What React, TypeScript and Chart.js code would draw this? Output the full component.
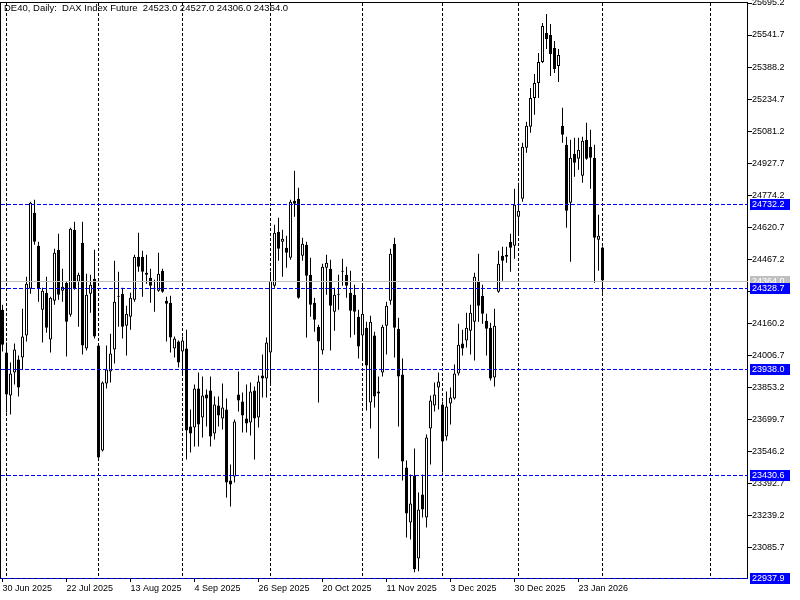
import React, { useEffect, useRef } from 'react';
import { Chart, registerables } from 'chart.js';

Chart.register(...registerables);

const opens = [
  24224.7, 24018.7, 23812.8, 23922.9, 23985.2, 23994.8, 24100.2, 24325.3, 24689.3, 24531.3,
  24224.7, 24306.1, 24081.0, 24267.8, 24512.1, 24315.7, 24354.0, 24200.7, 24607.9, 24358.8,
  24545.6, 24037.9, 24301.3, 24373.2, 24052.3, 23549.3, 23870.2, 23927.7, 24033.1, 24287.0,
  24301.3, 24148.1, 24191.2, 24272.6, 24478.6, 24478.6, 24401.9, 24378.0, 24330.1, 24315.7,
  24411.5, 24267.8, 24258.2, 24037.9, 24071.4, 24023.5, 24037.9, 23664.3, 23659.5, 23846.3,
  23707.4, 23817.5, 23836.7, 23630.7, 23764.9, 23702.6, 23745.7, 23405.6, 23424.8, 23817.5,
  23784.0, 23702.6, 23683.4, 23836.7, 23707.4, 23908.6, 23894.2, 24018.7, 24339.7, 24598.3,
  24550.4, 24521.7, 24473.8, 24746.8, 24756.4, 24483.4, 24536.1, 24392.4, 24258.2, 24143.3,
  24028.3, 24425.9, 24421.1, 24215.1, 24296.6, 24406.7, 24392.4, 24306.1, 24296.6, 24191.2,
  24100.2, 24138.5, 23779.2, 24100.2, 23822.3, 23922.9, 24148.1, 24267.8, 24540.8, 24133.7,
  23913.3, 23467.9, 23204.4, 23429.6, 23032.0, 23338.5, 23228.4, 23654.7, 23764.9, 23851.1,
  23769.6, 23616.4, 23774.4, 23798.4, 23918.1, 24061.8, 24076.2, 24124.1, 24167.2, 24363.6,
  24291.8, 24172.0, 24138.5, 23899.0, 24310.9, 24483.4, 24488.2, 24550.4, 24531.3, 24670.2,
  24756.4, 25000.7, 25101.3, 25240.2, 25312.0, 25412.6, 25551.5, 25542.0, 25479.7, 25393.5,
  25106.1, 25015.1, 24737.2, 24971.9, 24948.0, 24866.6, 25039.0, 25005.5, 24952.8, 24560.0,
  24523.0,
];

const highs = [
  24248.6, 24066.6, 23970.8, 24061.8, 24004.4, 24229.5, 24382.8, 24742.0, 24751.6, 24550.4,
  24330.1, 24382.8, 24287.0, 24516.9, 24588.7, 24421.1, 24358.8, 24617.5, 24646.2, 24401.9,
  24646.2, 24397.1, 24392.4, 24512.1, 24061.8, 23879.8, 24052.3, 24109.7, 24459.4, 24406.7,
  24330.1, 24243.9, 24306.1, 24488.2, 24593.5, 24507.3, 24488.2, 24421.1, 24368.4, 24497.7,
  24421.1, 24287.0, 24291.8, 24095.4, 24076.2, 24095.4, 24128.9, 23745.7, 23865.4, 23922.9,
  23903.8, 23841.5, 23903.8, 23808.0, 23808.0, 23870.2, 23798.4, 23482.2, 23697.8, 23927.7,
  23827.1, 23865.4, 23875.0, 23855.9, 23908.6, 24009.1, 24090.6, 24406.7, 24631.9, 24665.4,
  24607.9, 24579.2, 24751.6, 24890.5, 24809.1, 24569.6, 24550.4, 24473.8, 24282.2, 24152.8,
  24445.0, 24488.2, 24464.2, 24330.1, 24392.4, 24469.0, 24430.7, 24411.5, 24344.5, 24224.7,
  24349.2, 24167.2, 24196.0, 24119.3, 23903.8, 24152.8, 24263.0, 24516.9, 24569.6, 24186.4,
  23990.0, 23501.4, 23434.3, 23558.9, 23348.1, 23434.3, 23625.9, 23812.8, 23875.0, 23922.9,
  23784.0, 23831.9, 23851.1, 23961.2, 24157.6, 24128.9, 24210.3, 24248.6, 24401.9, 24492.9,
  24344.5, 24205.5, 24162.4, 24229.5, 24507.3, 24526.5, 24526.5, 24588.7, 24804.3, 24833.0,
  25024.6, 25125.2, 25288.1, 25355.1, 25455.7, 25599.4, 25642.5, 25594.6, 25513.2, 25474.9,
  25192.3, 25053.4, 25039.0, 25048.6, 25048.6, 25053.4, 25120.4, 25086.9, 25015.1, 24679.8,
  24527.0,
];

const lows = [
  24023.5, 23731.3, 23721.7, 23865.4, 23808.0, 23937.3, 24071.4, 24301.3, 24536.1, 24263.0,
  24066.6, 24114.5, 24018.7, 24248.6, 24272.6, 24263.0, 23999.6, 24191.2, 24320.5, 24143.3,
  24009.1, 24028.3, 24210.3, 24085.8, 23506.2, 23544.5, 23846.3, 23875.0, 23966.0, 24143.3,
  24085.8, 24004.4, 24128.9, 24263.0, 24406.7, 24287.0, 24349.2, 24258.2, 24215.1, 24310.9,
  24306.1, 24071.4, 24018.7, 23994.8, 23946.9, 23913.3, 23506.2, 23539.7, 23568.5, 23568.5,
  23611.6, 23664.3, 23568.5, 23602.0, 23664.3, 23649.9, 23324.2, 23281.1, 23396.0, 23736.1,
  23635.5, 23635.5, 23621.2, 23506.2, 23659.5, 23803.2, 23803.2, 23870.2, 24330.1, 24459.4,
  24382.8, 24425.9, 24464.2, 24670.2, 24277.4, 24459.4, 24090.6, 24191.2, 24119.3, 23779.2,
  24009.1, 24296.6, 24028.3, 24124.1, 24224.7, 24339.7, 24282.2, 24090.6, 24104.9, 23990.0,
  23985.2, 23740.9, 23654.7, 23755.3, 23511.0, 23903.8, 24009.1, 24248.6, 23994.8, 23664.3,
  23405.6, 23132.6, 23123.0, 22964.9, 22969.7, 23228.4, 23180.5, 23482.2, 23736.1, 23745.7,
  23443.9, 23597.2, 23673.8, 23793.6, 23908.6, 24004.4, 24042.7, 24009.1, 23980.4, 24167.2,
  24157.6, 24004.4, 23884.6, 23855.9, 24306.1, 24363.6, 24449.8, 24406.7, 24469.0, 24588.7,
  24742.0, 24976.7, 25072.5, 25158.8, 25240.2, 25407.8, 25474.9, 25345.6, 25359.9, 25316.8,
  25024.6, 24617.5, 24454.6, 24861.8, 24895.3, 24833.0, 24943.2, 24804.3, 24354.0, 24411.5,
  24306.0,
];

const closes = [
  24057.0, 23817.5, 23918.1, 24033.1, 23851.1, 24095.4, 24349.2, 24737.2, 24550.4, 24325.3,
  24315.7, 24138.5, 24282.2, 24497.7, 24296.6, 24334.9, 24167.2, 24612.7, 24325.3, 24392.4,
  24052.3, 24296.6, 24344.5, 24095.4, 23515.8, 23875.0, 23937.3, 24013.9, 24263.0, 24291.8,
  24143.3, 24205.5, 24282.2, 24478.6, 24430.7, 24406.7, 24392.4, 24339.7, 24325.3, 24397.1,
  24310.9, 24253.4, 24090.6, 24085.8, 23970.8, 24076.2, 23645.1, 23630.7, 23846.3, 23673.8,
  23812.8, 23798.4, 23616.4, 23769.6, 23717.0, 23755.3, 23396.0, 23386.4, 23688.2, 23788.8,
  23717.0, 23678.6, 23831.9, 23702.6, 23879.8, 23894.2, 24066.6, 24363.6, 24593.5, 24516.9,
  24564.8, 24497.7, 24742.0, 24732.4, 24282.2, 24540.8, 24387.6, 24248.6, 24176.8, 24071.4,
  24430.7, 24449.8, 24243.9, 24296.6, 24301.3, 24411.5, 24339.7, 24219.9, 24215.1, 24047.5,
  24205.5, 23956.5, 24167.2, 23808.0, 23831.9, 24143.3, 24243.9, 24492.9, 24138.5, 23903.8,
  23496.6, 23247.5, 23295.4, 22979.3, 23266.7, 23266.7, 23611.6, 23788.8, 23817.5, 23879.8,
  23592.4, 23760.1, 23803.2, 23918.1, 24057.0, 24037.9, 24138.5, 24210.3, 24382.8, 24243.9,
  24205.5, 24133.7, 23894.2, 24148.1, 24445.0, 24459.4, 24478.6, 24521.7, 24727.7, 24698.9,
  25005.5, 25106.1, 25240.2, 25312.0, 25412.6, 25585.1, 25522.8, 25450.9, 25379.1, 25446.2,
  25063.0, 24698.9, 24952.8, 24928.8, 24991.1, 25034.2, 24948.0, 24952.8, 24569.6, 24579.2,
  24364.0,
];

const xTickIdx = [0, 16, 32, 48, 64, 80, 96, 112, 128, 144];
const xTickLabels = [
  '30 Jun 2025', '22 Jul 2025', '13 Aug 2025', '4 Sep 2025', '26 Sep 2025',
  '20 Oct 2025', '11 Nov 2025', '3 Dec 2025', '30 Dec 2025', '23 Jan 2026',
];
const monthGridIdx = [1, 24, 45, 67, 90, 110, 129, 150, 177];
const yTicks = [
  25695.2, 25541.7, 25388.2, 25234.7, 25081.2, 24927.7, 24774.2, 24620.7, 24467.2,
  24313.7, 24160.2, 24006.7, 23853.2, 23699.7, 23546.2, 23392.7, 23239.2, 23085.7,
];
const yMax = 25695.2;
const yMin = 22937.9;
const xMin = -0.375;
const xMax = 186.375;
const levelLines = [24732.2, 24328.7, 23938.0, 23430.6, 22937.9];
const bidPrice = 24364.0;
const titleText = 'DE40, Daily:  DAX Index Future  24523.0 24527.0 24306.0 24364.0';

const FONT = '"Liberation Sans", Arial, sans-serif';

const overlayPlugin = {
  id: 'mt4overlay',
  beforeDatasetsDraw(chart: any) {
    const { ctx, chartArea: a, scales } = chart;
    const xs = scales.x;
    ctx.save();
    ctx.strokeStyle = '#000';
    ctx.lineWidth = 1;
    ctx.setLineDash([3, 2]);
    monthGridIdx.forEach((i) => {
      const px = Math.floor(xs.getPixelForValue(i)) + 0.5;
      ctx.beginPath();
      ctx.moveTo(px, a.top);
      ctx.lineTo(px, a.bottom);
      ctx.stroke();
    });
    ctx.setLineDash([]);
    ctx.strokeRect(0.5, a.top - 0.5, a.right - 1, Math.ceil(a.bottom) + 1 - a.top);
    ctx.restore();
  },
  afterDatasetsDraw(chart: any) {
    const { ctx, chartArea: a, scales } = chart;
    const ys = scales.y;
    ctx.save();
    ctx.lineWidth = 1;
    const gy = Math.round(ys.getPixelForValue(bidPrice)) + 0.5;
    ctx.strokeStyle = '#c0c0c0';
    ctx.beginPath();
    ctx.moveTo(a.left, gy);
    ctx.lineTo(a.right, gy);
    ctx.stroke();
    ctx.strokeStyle = '#0000ff';
    ctx.setLineDash([4, 2]);
    levelLines.forEach((v) => {
      const py = Math.round(ys.getPixelForValue(v)) + 0.5;
      ctx.beginPath();
      ctx.moveTo(a.left, py);
      ctx.lineTo(a.right, py);
      ctx.stroke();
    });
    ctx.restore();
  },
  afterDraw(chart: any) {
    const { ctx, chartArea: a, scales } = chart;
    const ys = scales.y;
    ctx.save();
    ctx.font = '9px ' + FONT;
    ctx.textBaseline = 'middle';
    ctx.textAlign = 'left';
    const tag = (v: number, bg: string) => {
      const py = Math.round(ys.getPixelForValue(v));
      ctx.fillStyle = bg;
      ctx.fillRect(a.right + 2, py - 5, 40, 11);
      ctx.fillStyle = '#fff';
      ctx.fillText(v.toFixed(1), a.right + 4, py + 0.5);
    };
    tag(bidPrice, '#c0c0c0');
    levelLines.forEach((v) => tag(v, '#0000ff'));
    ctx.fillStyle = '#000';
    ctx.font = '9.5px ' + FONT;
    ctx.textBaseline = 'alphabetic';
    ctx.fillText(titleText, 4, 11);
    ctx.restore();
  },
};

export default function App() {
  const ref = useRef<HTMLCanvasElement>(null);
  useEffect(() => {
    const canvas = ref.current;
    if (!canvas) return;
    const wickData = opens.map((_, i) => ({ x: i, y: [lows[i], highs[i]] }));
    const bodyData = opens.map((o, i) => ({ x: i, y: [o, closes[i]] }));
    const bodyColors = opens.map((o, i) => (closes[i] >= o ? '#ffffff' : '#000000'));
    const chart = new Chart(canvas, {
      type: 'bar',
      data: {
        datasets: [
          {
            label: 'wick',
            data: wickData as any,
            backgroundColor: '#000',
            borderWidth: 0,
            barThickness: 1,
            grouped: false,
            order: 2,
            inflateAmount: 0,
          } as any,
          {
            label: 'body',
            data: bodyData as any,
            backgroundColor: bodyColors,
            borderColor: '#000',
            borderWidth: 1,
            borderSkipped: false,
            barThickness: 3,
            grouped: false,
            order: 1,
            inflateAmount: 0,
          } as any,
        ],
      },
      options: {
        animation: false,
        responsive: false,
        devicePixelRatio: 1,
        layout: { padding: { top: 3, left: 1, right: 0, bottom: 0 }, autoPadding: false } as any,
        plugins: { legend: { display: false }, tooltip: { enabled: false }, title: { display: false } },
        scales: {
          x: {
            type: 'linear',
            min: xMin,
            max: xMax,
            offset: false,
            position: 'bottom',
            afterBuildTicks: (s: any) => {
              s.ticks = xTickIdx.map((v) => ({ value: v }));
            },
            afterFit: (s: any) => {
              s.height = 22;
              s.paddingLeft = 0;
              s.paddingRight = 0;
            },
            ticks: {
              callback: (v: any) => {
                const k = xTickIdx.indexOf(Number(v));
                return k >= 0 ? xTickLabels[k] : '';
              },
              align: 'start',
              maxRotation: 0,
              minRotation: 0,
              autoSkip: false,
              color: '#000',
              font: { family: FONT, size: 9 },
              padding: 1,
            },
            grid: { display: true, drawOnChartArea: false, drawTicks: true, tickLength: 4, color: '#000', offset: false },
            border: { display: false },
          } as any,
          y: {
            type: 'linear',
            position: 'right',
            min: yMin,
            max: yMax,
            afterBuildTicks: (s: any) => {
              s.ticks = yTicks.map((v) => ({ value: v }));
            },
            afterFit: (s: any) => {
              s.width = 52;
              s.paddingTop = 0;
              s.paddingBottom = 0;
            },
            ticks: {
              callback: (v: any) => Number(v).toFixed(1),
              color: '#000',
              font: { family: FONT, size: 9 },
              padding: 0,
            },
            grid: { display: true, drawOnChartArea: false, drawTicks: true, tickLength: 4, color: '#000' },
            border: { display: false },
          } as any,
        },
      },
      plugins: [overlayPlugin],
    });
    return () => chart.destroy();
  }, []);
  return (
    <div style={{ position: 'fixed', left: 0, top: 0, width: 800, height: 600, background: '#fff' }}>
      <canvas ref={ref} width={800} height={600} style={{ display: 'block', width: 800, height: 600 }} />
    </div>
  );
}
